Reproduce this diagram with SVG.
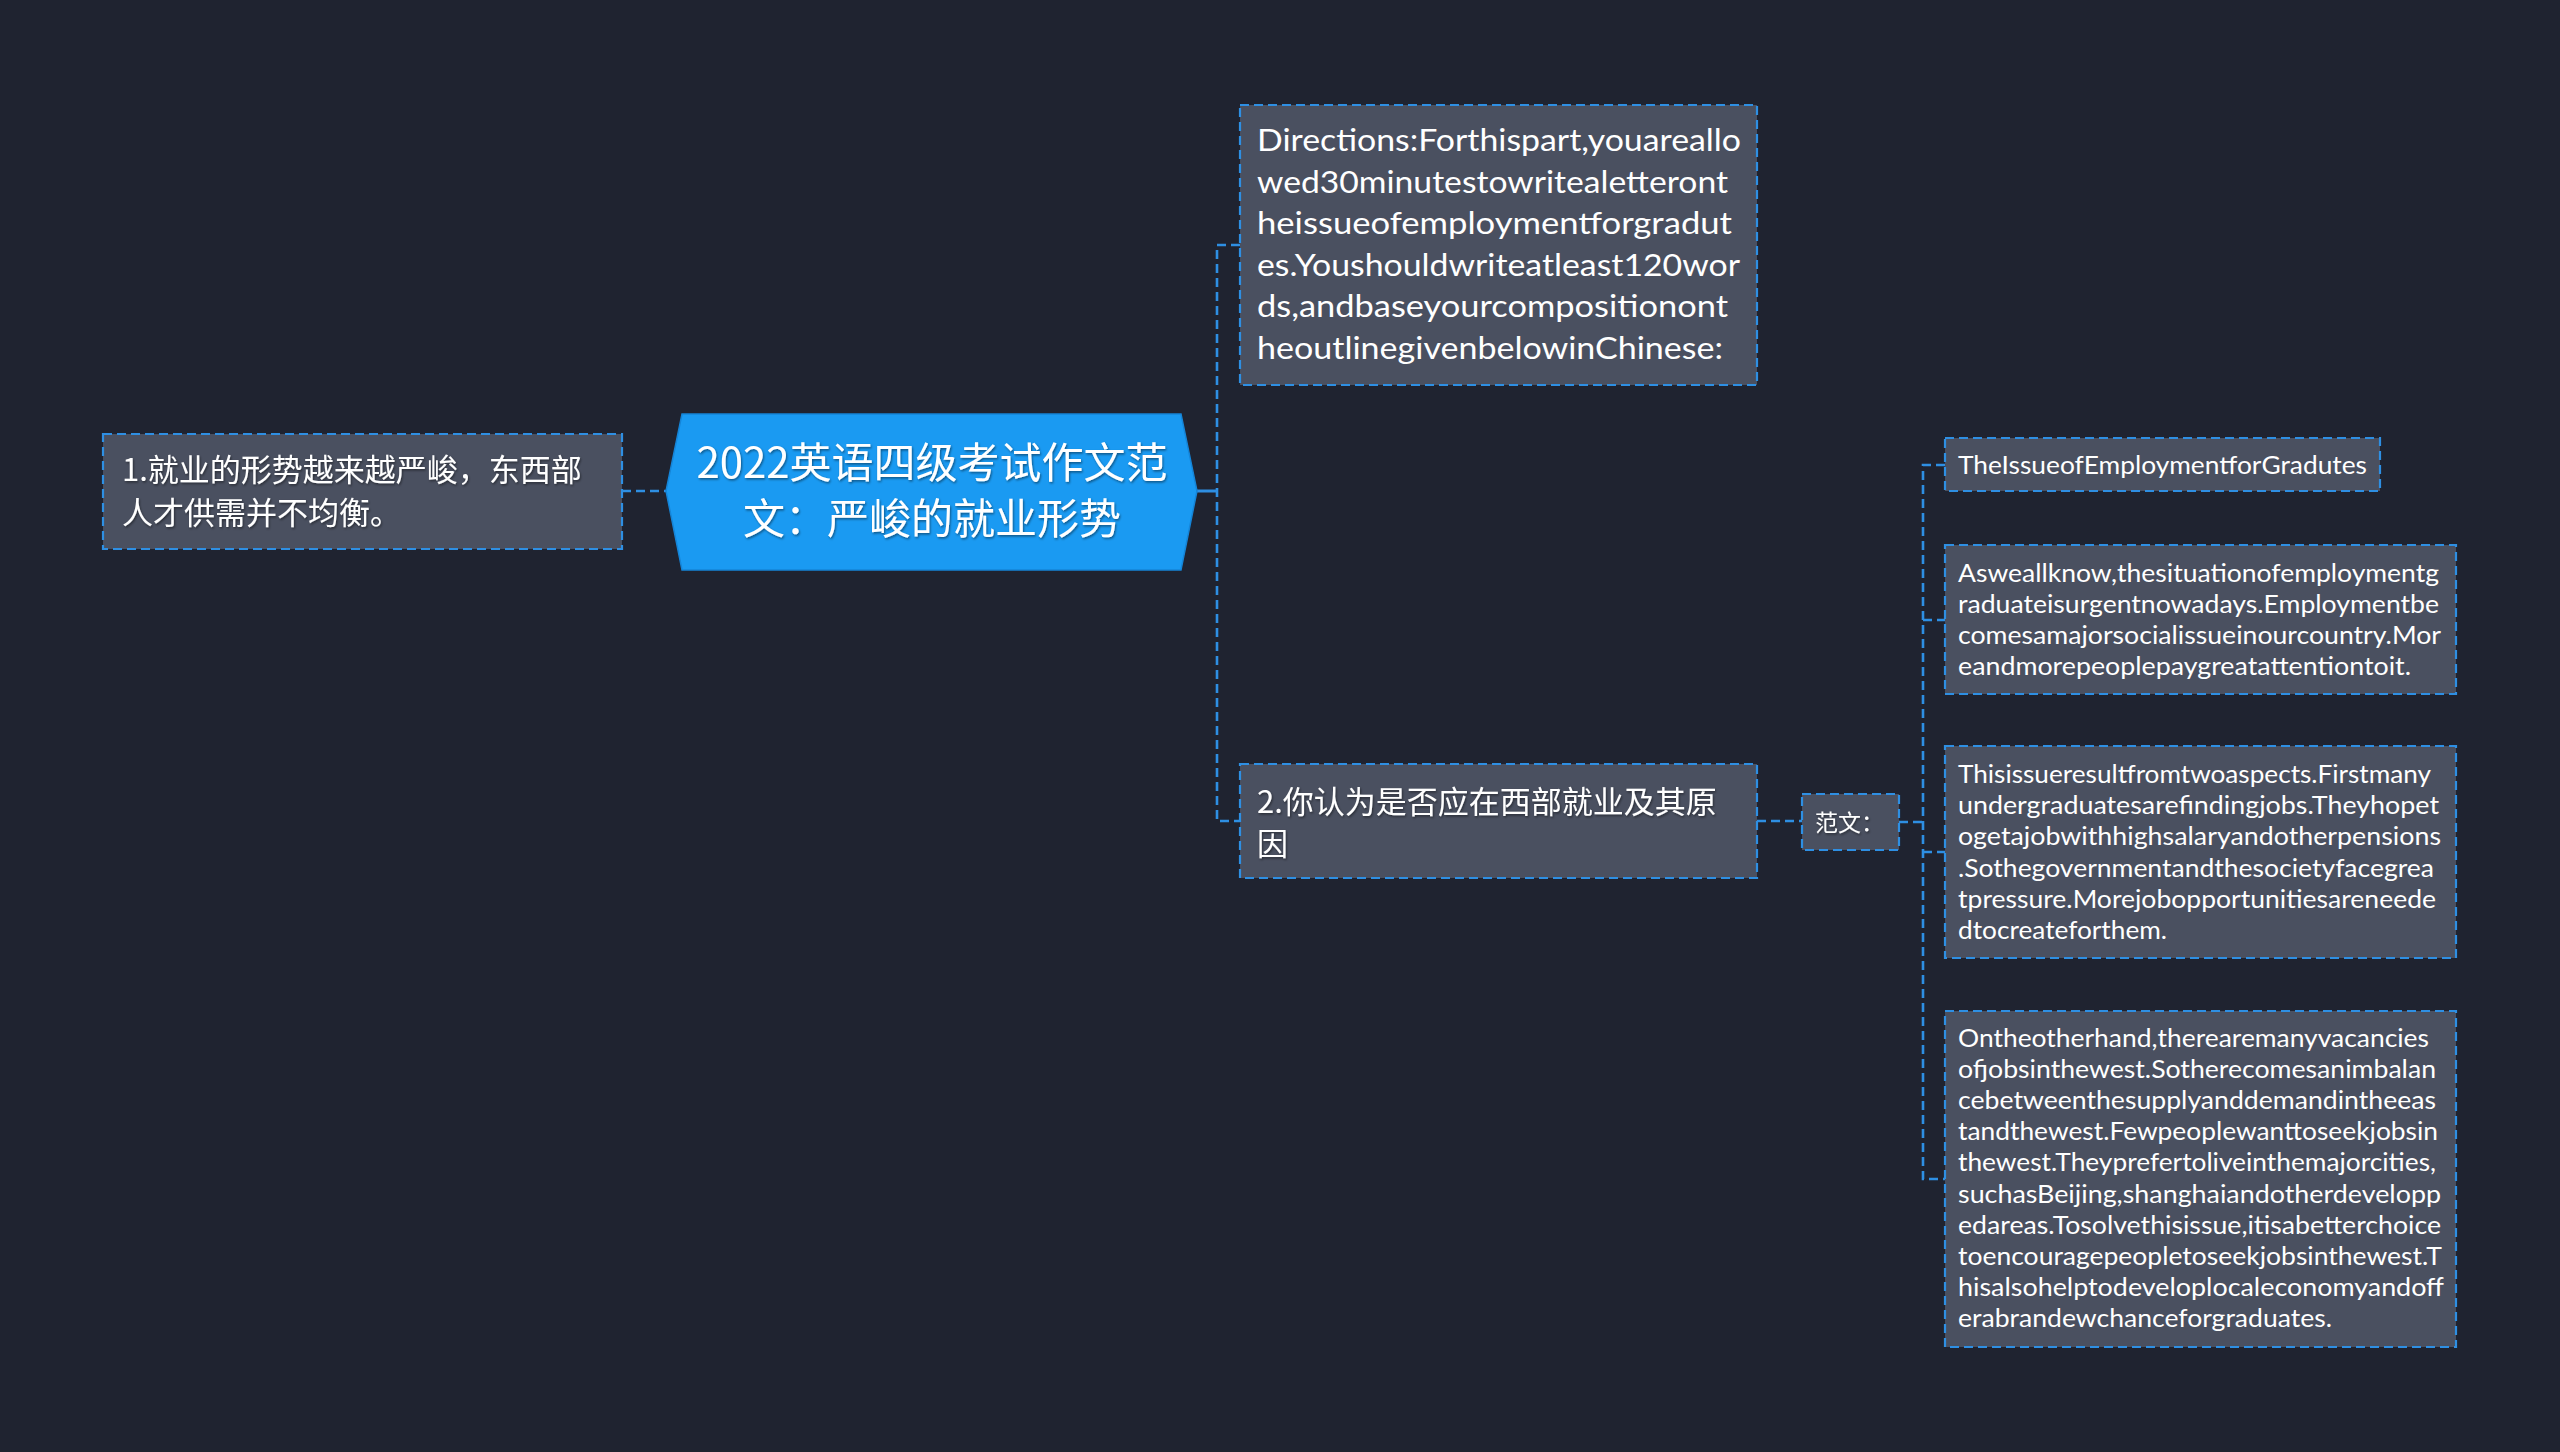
<svg xmlns="http://www.w3.org/2000/svg" width="2560" height="1452" viewBox="0 0 2560 1452">
  <defs>
    <filter id="ts" x="-5%" y="-20%" width="110%" height="140%">
      <feDropShadow dx="1" dy="1.5" stdDeviation="0.8" flood-color="#000000" flood-opacity="0.45"/>
    </filter>
  </defs>
  <style>
    .bg { fill: #1f2330; }
    .box { fill: #4a5060; stroke: #2e8fe3; stroke-width: 2.2; stroke-dasharray: 9 5; }
    .conn { fill: none; stroke: #2e8fe3; stroke-width: 2.6; stroke-dasharray: 9 5; }
    .solid { fill: none; stroke: #2e8fe3; stroke-width: 3; }
    .cn { font-family: "Noto Sans CJK SC", "Noto Sans", sans-serif; fill: #ffffff; filter: url(#ts); }
    .en { font-family: "Lato", "Noto Sans", "Liberation Sans", sans-serif; fill: #ffffff; }
    .en30 { font-size: 30px; }
    .en24 { font-size: 25px; }
  </style>
  <rect class="bg" x="0" y="0" width="2560" height="1452"/>

  <g id="connectors">
    <path class="conn" d="M622,491 H666"/>
    <path class="solid" d="M1197,491 H1217"/>
    <path class="conn" d="M1240,245 H1217 V821 H1240"/>
    <path class="conn" d="M1757,821 H1802"/>
    <path class="conn" d="M1899,822 H1923"/>
    <path class="conn" d="M1945,465 H1923 V1179 H1945"/>
    <path class="conn" d="M1923,620 H1945"/>
    <path class="conn" d="M1923,852 H1945"/>
  </g>

  <g id="center">
    <polygon points="682,414 1181,414 1197,491 1181,570 682,570 666,491" fill="#1a9af2" stroke="#1585d8" stroke-width="1.5"/>
    <text class="cn" x="932" y="478" font-size="42" text-anchor="middle">2022英语四级考试作文范</text>
    <text class="cn" x="932" y="534" font-size="42" text-anchor="middle">文：严峻的就业形势</text>
  </g>

  <g id="node-left">
    <rect class="box" x="103" y="434" width="519" height="115"/>
    <text class="cn" x="122" y="481" font-size="31">1.就业的形势越来越严峻，东西部</text>
    <text class="cn" x="122" y="524" font-size="31">人才供需并不均衡。</text>
  </g>

  <g id="node-directions">
    <rect class="box" x="1240" y="105" width="517" height="280"/>
    <g class="en en30">
      <text x="1257" y="151" textLength="484" lengthAdjust="spacingAndGlyphs">Directions:Forthispart,youareallo</text>
      <text x="1257" y="192.6" textLength="471" lengthAdjust="spacingAndGlyphs">wed30minutestowritealetteront</text>
      <text x="1257" y="234.2" textLength="475" lengthAdjust="spacingAndGlyphs">heissueofemploymentforgradut</text>
      <text x="1257" y="275.8" textLength="483" lengthAdjust="spacingAndGlyphs">es.Youshouldwriteatleast120wor</text>
      <text x="1257" y="317.4" textLength="471" lengthAdjust="spacingAndGlyphs">ds,andbaseyourcompositionont</text>
      <text x="1257" y="359" textLength="466" lengthAdjust="spacingAndGlyphs">heoutlinegivenbelowinChinese:</text>
    </g>
  </g>

  <g id="node-2">
    <rect class="box" x="1240" y="764" width="517" height="114"/>
    <text class="cn" x="1257" y="813" font-size="31">2.你认为是否应在西部就业及其原</text>
    <text class="cn" x="1257" y="855" font-size="31">因</text>
  </g>

  <g id="node-fanwen">
    <rect class="box" x="1802" y="794" width="97" height="56"/>
    <text class="cn" x="1815" y="831" font-size="23">范文：</text>
  </g>

  <g id="node-title">
    <rect class="box" x="1945" y="438" width="435" height="53"/>
    <text class="en en24" x="1958" y="474" textLength="409" lengthAdjust="spacingAndGlyphs">TheIssueofEmploymentforGradutes</text>
  </g>

  <g id="node-para1">
    <rect class="box" x="1945" y="545" width="511" height="149"/>
    <g class="en en24">
      <text x="1958" y="582" textLength="481" lengthAdjust="spacingAndGlyphs">Asweallknow,thesituationofemploymentg</text>
      <text x="1958" y="613" textLength="481" lengthAdjust="spacingAndGlyphs">raduateisurgentnowadays.Employmentbe</text>
      <text x="1958" y="644" textLength="483" lengthAdjust="spacingAndGlyphs">comesamajorsocialissueinourcountry.Mor</text>
      <text x="1958" y="675" textLength="453" lengthAdjust="spacingAndGlyphs">eandmorepeoplepaygreatattentiontoit.</text>
    </g>
  </g>

  <g id="node-para2">
    <rect class="box" x="1945" y="746" width="511" height="212"/>
    <g class="en en24">
      <text x="1958" y="783" textLength="473" lengthAdjust="spacingAndGlyphs">Thisissueresultfromtwoaspects.Firstmany</text>
      <text x="1958" y="814.2" textLength="481" lengthAdjust="spacingAndGlyphs">undergraduatesarefindingjobs.Theyhopet</text>
      <text x="1958" y="845.4" textLength="483" lengthAdjust="spacingAndGlyphs">ogetajobwithhighsalaryandotherpensions</text>
      <text x="1958" y="876.6" textLength="476" lengthAdjust="spacingAndGlyphs">.Sothegovernmentandthesocietyfacegrea</text>
      <text x="1958" y="907.8" textLength="478" lengthAdjust="spacingAndGlyphs">tpressure.Morejobopportunitiesareneede</text>
      <text x="1958" y="939" textLength="209" lengthAdjust="spacingAndGlyphs">dtocreateforthem.</text>
    </g>
  </g>

  <g id="node-para3">
    <rect class="box" x="1945" y="1011" width="511" height="336"/>
    <g class="en en24">
      <text x="1958" y="1047" textLength="471" lengthAdjust="spacingAndGlyphs">Ontheotherhand,therearemanyvacancies</text>
      <text x="1958" y="1078.1" textLength="478" lengthAdjust="spacingAndGlyphs">ofjobsinthewest.Sotherecomesanimbalan</text>
      <text x="1958" y="1109.2" textLength="478" lengthAdjust="spacingAndGlyphs">cebetweenthesupplyanddemandintheeas</text>
      <text x="1958" y="1140.3" textLength="480" lengthAdjust="spacingAndGlyphs">tandthewest.Fewpeoplewanttoseekjobsin</text>
      <text x="1958" y="1171.4" textLength="478" lengthAdjust="spacingAndGlyphs">thewest.Theyprefertoliveinthemajorcities,</text>
      <text x="1958" y="1202.5" textLength="483" lengthAdjust="spacingAndGlyphs">suchasBeijing,shanghaiandotherdevelopp</text>
      <text x="1958" y="1233.6" textLength="483" lengthAdjust="spacingAndGlyphs">edareas.Tosolvethisissue,itisabetterchoice</text>
      <text x="1958" y="1264.7" textLength="484" lengthAdjust="spacingAndGlyphs">toencouragepeopletoseekjobsinthewest.T</text>
      <text x="1958" y="1295.8" textLength="486" lengthAdjust="spacingAndGlyphs">hisalsohelptodeveloplocaleconomyandoff</text>
      <text x="1958" y="1326.9" textLength="374" lengthAdjust="spacingAndGlyphs">erabrandewchanceforgraduates.</text>
    </g>
  </g>
</svg>
